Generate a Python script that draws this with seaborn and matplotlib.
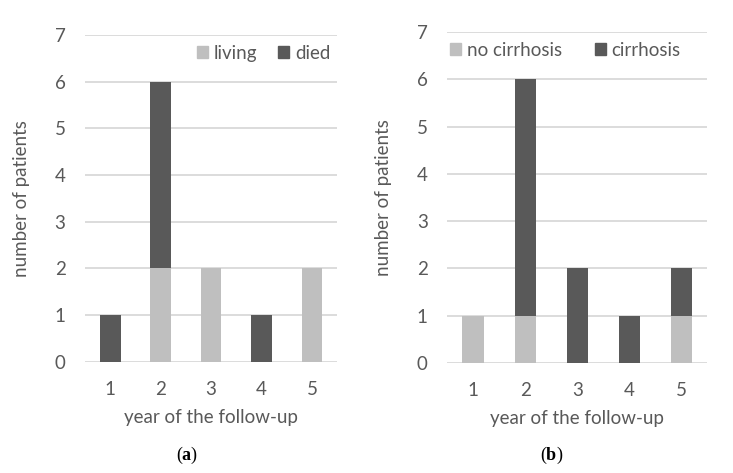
import matplotlib
matplotlib.use("Agg")
import matplotlib.pyplot as plt
from matplotlib.patches import Patch
import pandas as pd
import seaborn as sns

# data
years = ["1", "2", "3", "4", "5"]
living = [0, 2, 2, 0, 2]
died = [1, 4, 0, 1, 0]
no_cirrhosis = [1, 1, 0, 0, 1]
cirrhosis = [0, 5, 2, 1, 1]

LIGHT = "#BFBFBF"
DARK = "#595959"
GRID = "#D9D9D9"
TXT = "#595959"

sns.set_theme(style="white")
plt.rcParams["font.family"] = ["Lato", "DejaVu Sans"]
plt.rcParams["mathtext.fontset"] = "custom"
plt.rcParams["mathtext.rm"] = "Liberation Serif"
plt.rcParams["mathtext.bf"] = "Liberation Serif:bold"

fig = plt.figure(figsize=(7.33, 4.73), dpi=100)
ax_a = fig.add_axes([0.116, 0.235, 0.344, 0.691])
ax_b = fig.add_axes([0.610, 0.233, 0.355, 0.699])


def stacked(ax, bottom_vals, top_vals, labels, legend_loc, legend_anchor, colsp):
    df = pd.DataFrame({"year": years,
                       "bottom": bottom_vals,
                       "total": [b + t for b, t in zip(bottom_vals, top_vals)]})
    # dark total first, light bottom part drawn over it
    sns.barplot(data=df, x="year", y="total", color=DARK, width=0.41,
                saturation=1, linewidth=0, ax=ax, zorder=3)
    sns.barplot(data=df, x="year", y="bottom", color=LIGHT, width=0.41,
                saturation=1, linewidth=0, ax=ax, zorder=4)
    ax.set_ylim(0, 7)
    ax.set_yticks(range(8))
    ax.yaxis.grid(True, color=GRID, linewidth=1.3, zorder=0)
    ax.set_axisbelow(True)
    for s in ax.spines.values():
        s.set_visible(False)
    ax.tick_params(axis="both", length=0, labelsize=13.5, labelcolor=TXT, pad=14)
    ax.set_xlabel("year of the follow-up", fontsize=13.5, color=TXT, labelpad=8)
    ax.set_ylabel("number of patients", fontsize=13.5, color=TXT, labelpad=18)
    handles = [Patch(color=LIGHT), Patch(color=DARK)]
    ax.legend(handles, labels, ncol=2, frameon=False, loc=legend_loc,
              bbox_to_anchor=legend_anchor, fontsize=13.5, labelcolor=TXT,
              handlelength=0.6, handleheight=0.6, handletextpad=0.3,
              columnspacing=colsp, borderaxespad=0.3)


stacked(ax_a, living, died, ["living", "died"], "upper right", (1.025, 1.01), 1.1)
stacked(ax_b, no_cirrhosis, cirrhosis, ["no cirrhosis", "cirrhosis"],
        "upper left", (-0.04, 1.01), 1.75)

fig.text(0.255, 0.027, r"($\mathbf{a}$)", fontsize=13, ha="center",
         family="Liberation Serif", color="black")
fig.text(0.752, 0.027, r"($\mathbf{b}$)", fontsize=13, ha="center",
         family="Liberation Serif", color="black")

fig.savefig("out.png", dpi=100)
